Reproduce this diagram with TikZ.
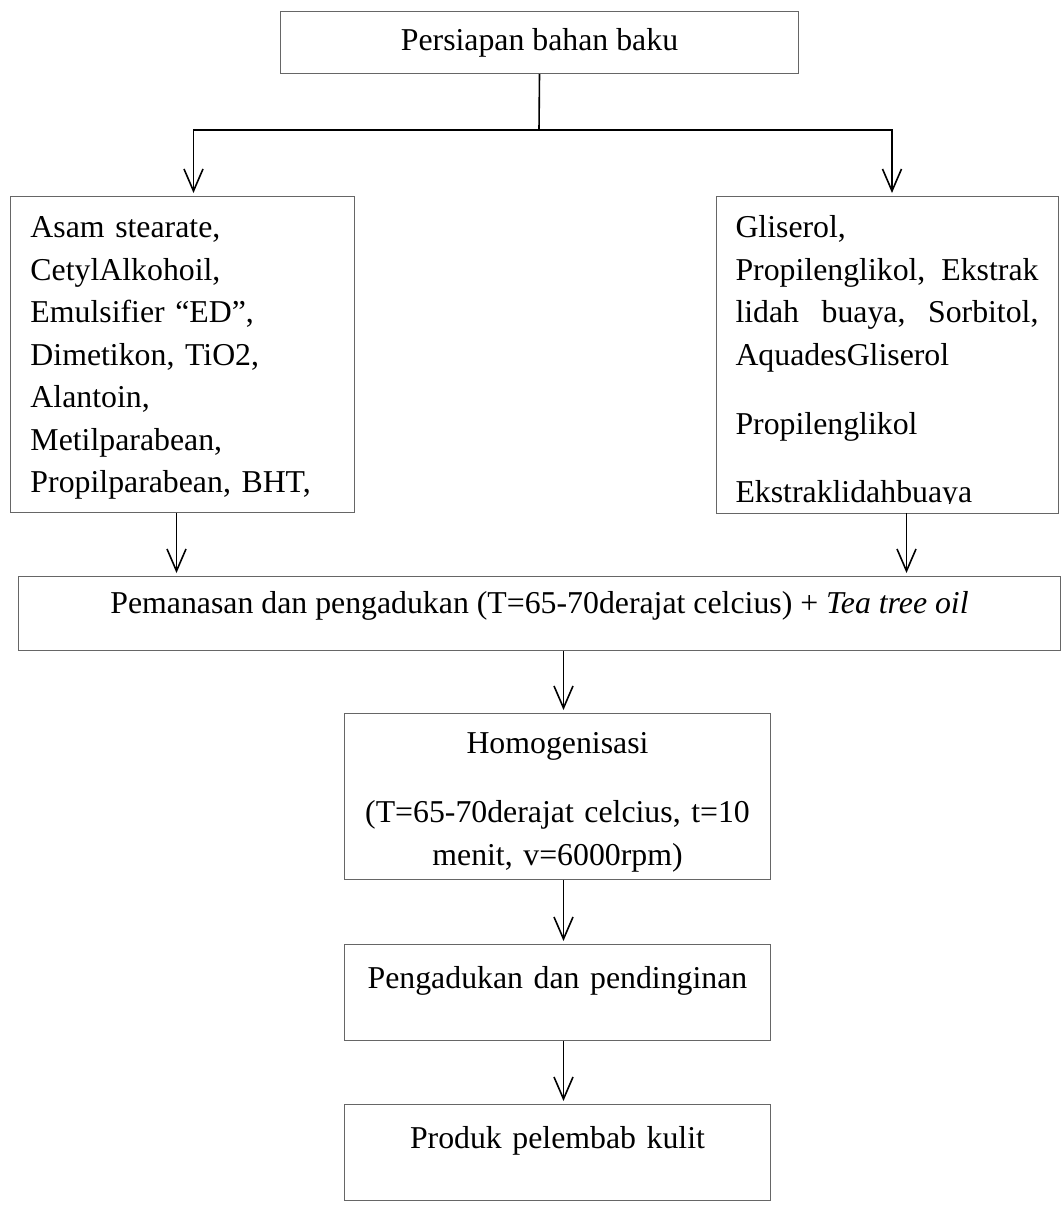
\documentclass[tikz,border=0pt]{standalone}
\usepackage{fontspec}
\setmainfont{Liberation Serif}
\usepackage{tikz}
\usetikzlibrary{arrows.meta,positioning}

\begin{document}
\begin{tikzpicture}
	[x=0.5pt,y=-0.5pt,
	kotak/.style={draw=black!60,line width=0.5pt,inner sep=0pt,anchor=north west,
		font=\fontsize{15.9}{21.25}\selectfont},
	kotak1/.style={kotak,align=center,text width=213pt},
	garis/.style={black,line width=0.8pt},
	panah/.style={garis,-{Straight Barb[length=11pt,width=9.5pt]},shorten >=1.5pt}]
	\useasboundingbox (0,0) rectangle (1061,1205);
	%  persiapan bahan baku
	\node[kotak,minimum width=259pt,text height=19.5pt,text depth=11.5pt] (persiapan) at (280,11) {Persiapan bahan baku};
	\coordinate (cabang) at (539,130);
	%  fase minyak dan fase air
	\node[kotak,align=left,text width=152pt,inner xsep=10pt,text height=20.5pt,text depth=137.5pt] (minyak) at (10,196)
	{Asam stearate,\\ CetylAlkohoil,\\ Emulsifier “ED”,\\ Dimetikon, TiO2,\\ Alantoin,\\ Metilparabean,\\ Propilparabean, BHT,};
	\begin{scope}
		\clip (700,190) rectangle (1061,503);
		\node[kotak,draw=none,align=left,text width=151.5pt,inner xsep=9.5pt,text height=20.5pt,text depth=137.5pt] (air) at (716,196)
		{Gliserol,\\ Propilenglikol,\hfill Ekstrak\\ lidah\hfill buaya,\hfill Sorbitol,\\ AquadesGliserol\\[13.5pt] Propilenglikol\\[12.5pt] Ekstraklidahbuaya};
	\end{scope}
	\draw[draw=black!60,line width=0.5pt] (air.north west) rectangle (air.south east);
	%  proses
	\node[kotak,minimum width=521pt,text height=18.5pt,text depth=18.5pt] (pemanasan) at (18,576)
	{Pemanasan dan pengadukan (T=65-70derajat celcius) + \textit{Tea tree oil}};
	\node[kotak1,text height=20pt,text depth=63pt] (homog) at (344,713)
	{Homogenisasi\\[13.25pt] (T=65-70derajat celcius, t=10\\ menit, v=6000rpm)};
	\node[kotak1,text height=22pt,text depth=26pt] (pengadukan) at (344,944) {Pengadukan dan pendinginan};
	\node[kotak1,text height=22pt,text depth=26pt] (produk) at (344,1104) {Produk pelembab kulit};
	%  panah
	\draw[garis] (persiapan.south) -- (cabang);
	\draw[panah] (cabang) -| ([xshift=5.5pt]minyak.north);
	\draw[panah] (cabang) -| ([xshift=2.5pt]air.north);
	\draw[panah] ([xshift=-3pt]minyak.south) -- ([xshift=-3pt]minyak.south |- pemanasan.north);
	\draw[panah] ([xshift=9.75pt]air.south) -- ([xshift=9.75pt]air.south |- pemanasan.north);
	\draw[panah] ([xshift=3pt]homog.north |- pemanasan.south) -- ([xshift=3pt]homog.north);
	\draw[panah] ([xshift=3pt]homog.south) -- ([xshift=3pt]pengadukan.north);
	\draw[panah] ([xshift=3pt]pengadukan.south) -- ([xshift=3pt]produk.north);
\end{tikzpicture}
\end{document}
